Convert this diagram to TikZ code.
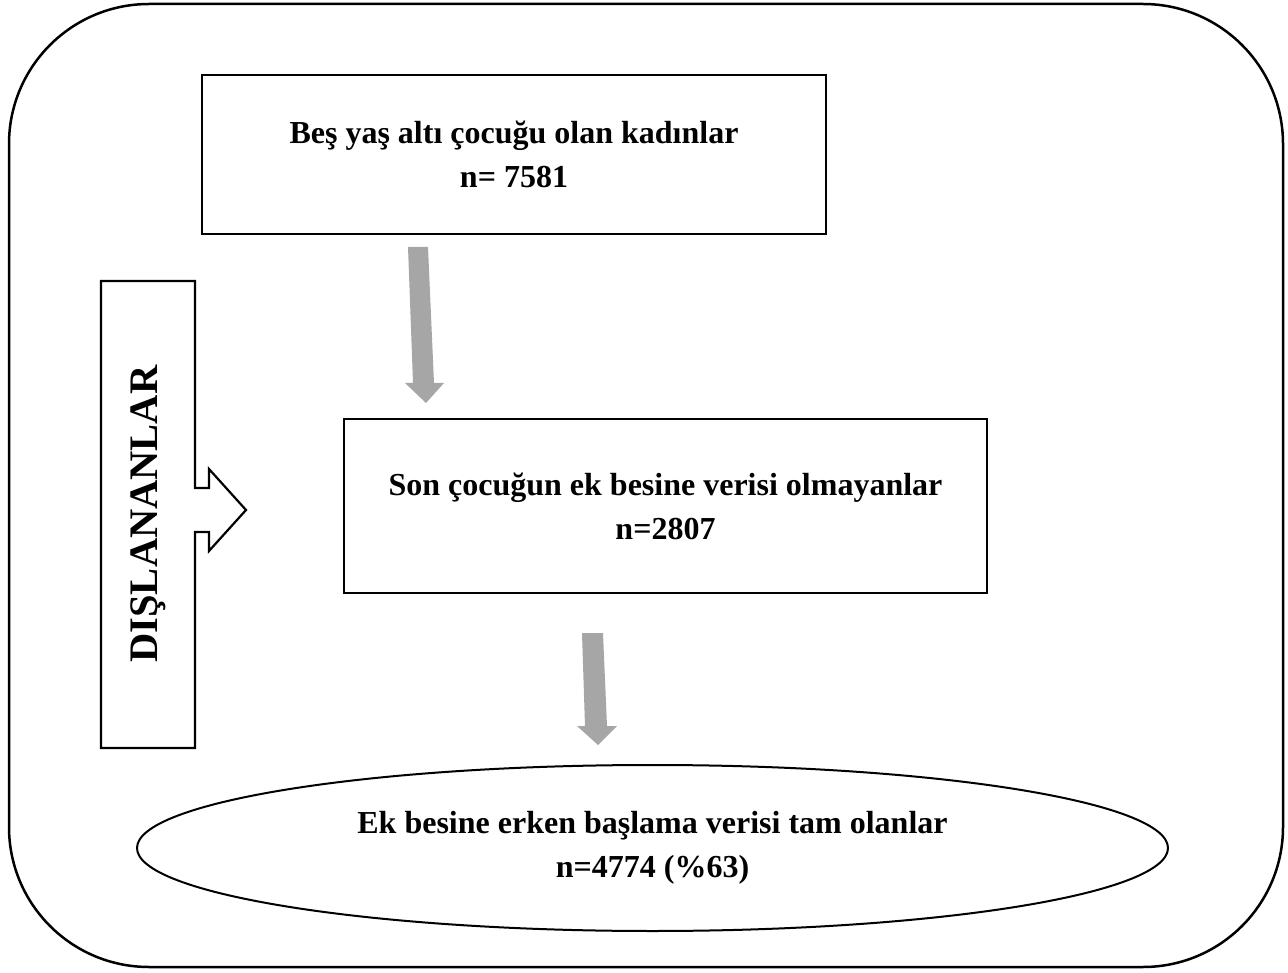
\documentclass[tikz,border=0pt]{standalone}
\usepackage{fontspec}
\setmainfont{Liberation Serif}
\usetikzlibrary{shapes.geometric}
\definecolor{arrowgray}{HTML}{A6A6A6}
\tikzset{
  txt/.style={font=\fontsize{32}{44}\selectfont\bfseries, align=center},
  boxnode/.style={draw=black, line width=2.2pt, rectangle, inner sep=0pt, txt},
  ellnode/.style={draw=black, line width=2pt, ellipse, inner sep=0pt, txt},
  grayarrow/.style={fill=arrowgray, draw=none},
}
\begin{document}
\begin{tikzpicture}[x=1pt,y=-1pt]
\useasboundingbox (0,0) rectangle (1288,973);
% outer frame
\draw[line width=2.5pt, rounded corners=140pt] (9,4) rectangle (1283,967);
% boxes
\node[boxnode, minimum width=624pt, minimum height=159pt] (top) at (514,154.5)
  {Beş yaş altı çocuğu olan kadınlar\\n= 7581};
\node[boxnode, minimum width=643pt, minimum height=174pt] (mid) at (665.5,506)
  {Son çocuğun ek besine verisi olmayanlar\\n=2807};
\node[ellnode, minimum width=1031pt, minimum height=166pt] (ell) at (652.5,848)
  {Ek besine erken başlama verisi tam olanlar\\n=4774 (\%63)};
% exclusion callout
\draw[line width=2.2pt, line join=miter]
  (101,281) -- (195,281) -- (195,488) -- (209,488) -- (209,469) -- (246,510)
  -- (209,551) -- (209,532) -- (195,532) -- (195,748) -- (101,748) -- cycle;
\node[font=\fontsize{40.5}{44}\selectfont\bfseries, rotate=90] (dis) at (148,514) {DIŞLANANLAR};
% gray arrows
\fill[grayarrow] (408,247) -- (428,247) -- (434,383) -- (444,383) -- (426,403)
  -- (405,383) -- (413,383) -- cycle;
\fill[grayarrow] (582,633) -- (603,633) -- (607,726) -- (617,726) -- (598,745)
  -- (577,726) -- (585,726) -- cycle;
\end{tikzpicture}
\end{document}
